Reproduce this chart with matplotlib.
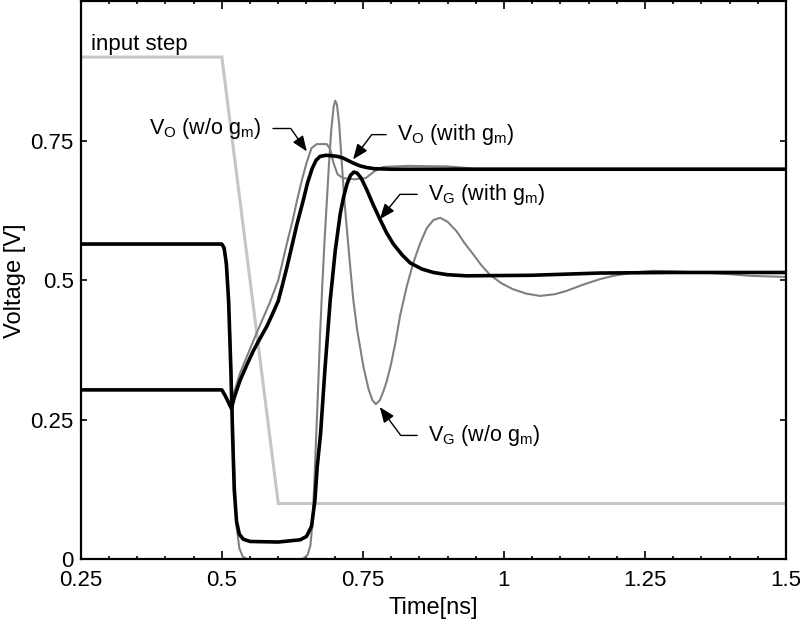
import matplotlib
matplotlib.use("Agg")
import matplotlib.pyplot as plt
from matplotlib.ticker import FixedLocator, MultipleLocator

plt.rcParams["font.family"] = ["Liberation Sans", "DejaVu Sans"]
plt.rcParams["mathtext.fontset"] = "custom"
plt.rcParams["mathtext.rm"] = "Liberation Sans"

# input step
t_in = [0.25, 0.5, 0.6, 1.5]
v_in = [0.9, 0.9, 0.1, 0.1]

# V_G with g_m (black)
t_vg_gm = [0.25, 0.5, 0.504, 0.508, 0.512, 0.516, 0.519, 0.522, 0.526, 0.531, 0.538, 0.55, 0.6,
           0.639, 0.65, 0.659, 0.665, 0.669, 0.675, 0.683, 0.692, 0.701, 0.71,
           0.716, 0.722, 0.728, 0.734, 0.74, 0.747, 0.757, 0.768, 0.78, 0.792,
           0.804, 0.82, 0.834, 0.855, 0.875, 0.9, 0.934, 1.05, 1.17, 1.3, 1.5]
v_vg_gm = [0.565, 0.565, 0.558, 0.53, 0.463, 0.34, 0.225, 0.125, 0.068, 0.045, 0.036, 0.032, 0.031,
           0.035, 0.041, 0.059, 0.106, 0.165, 0.225, 0.344, 0.463, 0.553, 0.62,
           0.65, 0.673, 0.688, 0.694, 0.692, 0.683, 0.662, 0.636, 0.61, 0.585,
           0.565, 0.545, 0.531, 0.52, 0.514, 0.51, 0.508, 0.509, 0.513, 0.514, 0.514]

# V_O with g_m (black)
t_vo_gm = [0.25, 0.5, 0.505, 0.51, 0.517, 0.522, 0.532, 0.545, 0.556, 0.57, 0.58,
           0.59, 0.6, 0.607, 0.615, 0.625, 0.633, 0.644, 0.652, 0.66, 0.667,
           0.674, 0.685, 0.697, 0.705, 0.715, 0.725, 0.733, 0.745, 0.757, 0.77,
           0.8, 1.5]
v_vo_gm = [0.3036, 0.3036, 0.295, 0.285, 0.27, 0.29, 0.32, 0.35, 0.374, 0.4, 0.418,
           0.44, 0.463, 0.49, 0.522, 0.565, 0.6, 0.642, 0.675, 0.7, 0.715,
           0.722, 0.724, 0.723, 0.722, 0.719, 0.714, 0.71, 0.705, 0.702, 0.7,
           0.699, 0.699]

# V_O without g_m (gray)
t_vo = [0.25, 0.5, 0.505, 0.51, 0.517, 0.522, 0.532, 0.545, 0.556, 0.57, 0.585,
        0.6, 0.607, 0.615, 0.625, 0.633, 0.642, 0.65, 0.659, 0.668, 0.686,
        0.692, 0.698, 0.705, 0.715, 0.735, 0.755, 0.77, 0.785, 0.83, 0.9,
        0.95, 1.5]
v_vo = [0.3036, 0.3036, 0.295, 0.285, 0.27, 0.3, 0.333, 0.365, 0.392, 0.425, 0.46,
        0.5, 0.53, 0.565, 0.605, 0.642, 0.68, 0.71, 0.737, 0.744, 0.744,
        0.735, 0.71, 0.69, 0.683, 0.681, 0.683, 0.695, 0.703, 0.705, 0.704,
        0.7, 0.7]

# V_G without g_m (gray)
t_vg = [0.25, 0.5, 0.505, 0.51, 0.514, 0.518, 0.522, 0.526, 0.531, 0.537, 0.545,
        0.64, 0.645, 0.652, 0.657, 0.661, 0.665, 0.67, 0.674, 0.678, 0.682,
        0.686, 0.69, 0.694, 0.698, 0.701, 0.704, 0.708, 0.712, 0.716, 0.72,
        0.727, 0.733, 0.74, 0.751, 0.76, 0.767, 0.773, 0.78, 0.786, 0.792,
        0.8, 0.808, 0.816, 0.828, 0.839, 0.851, 0.863, 0.875, 0.887, 0.9,
        0.916, 0.93, 0.946, 0.96, 0.975, 0.995, 1.016, 1.04, 1.064, 1.09,
        1.111, 1.14, 1.17, 1.194, 1.23, 1.264, 1.3, 1.348, 1.4, 1.436, 1.5]
v_vg = [0.564, 0.564, 0.55, 0.5, 0.42, 0.3, 0.16, 0.06, 0.02, 0.005, 0.0,
        0.0, 0.002, 0.008, 0.025, 0.07, 0.165, 0.29, 0.4, 0.49, 0.57,
        0.64, 0.71, 0.77, 0.81, 0.822, 0.815, 0.78, 0.72, 0.66, 0.61,
        0.53, 0.465, 0.41, 0.345, 0.305, 0.285, 0.278, 0.285, 0.3, 0.318,
        0.35, 0.39, 0.437, 0.49, 0.53, 0.565, 0.593, 0.608, 0.612, 0.605,
        0.588, 0.567, 0.546, 0.527, 0.51, 0.495, 0.484, 0.476, 0.472, 0.475,
        0.481, 0.492, 0.502, 0.508, 0.514, 0.517, 0.516, 0.514, 0.511, 0.508, 0.506]

x_ticks = [0.25, 0.5, 0.75, 1, 1.25, 1.5]
x_labels = ["0.25", "0.5", "0.75", "1", "1.25", "1.5"]
y_ticks = [0, 0.25, 0.5, 0.75]
y_labels = ["0", "0.25", "0.5", "0.75"]

fig = plt.figure(figsize=(8, 6.32), dpi=100)
ax = fig.add_axes([0.101, 0.115, 0.8815, 0.883])

ax.plot(t_in, v_in, color="#c6c6c6", lw=2.2, solid_joinstyle="miter")
ax.plot(t_vo, v_vo, color="#808080", lw=1.5)
ax.plot(t_vg, v_vg, color="#808080", lw=1.5)
ax.plot(t_vo_gm, v_vo_gm, color="black", lw=2.6)
ax.plot(t_vg_gm, v_vg_gm, color="black", lw=2.6)

ax.set_xlim(0.25, 1.5)
ax.set_ylim(0, 1.0)
ax.xaxis.set_major_locator(FixedLocator(x_ticks))
ax.set_xticklabels(x_labels)
ax.xaxis.set_minor_locator(MultipleLocator(0.05))
ax.yaxis.set_major_locator(FixedLocator(y_ticks))
ax.set_yticklabels(y_labels)
ax.tick_params(which="both", direction="in", top=True, right=True, width=1.2,
               labelsize=16)
ax.tick_params(axis="x", which="major", length=5.5, pad=8)
ax.tick_params(axis="x", which="minor", length=2.5)
ax.tick_params(axis="y", which="major", length=4.5, pad=5)
for s in ax.spines.values():
    s.set_linewidth(1.6)

ax.set_xlabel("Time[ns]", fontsize=17, labelpad=4)
ax.set_ylabel("Voltage [V]", fontsize=17, labelpad=3)

ax.text(0.2677, 0.9225, "input step", fontsize=16, va="center", ha="left")

fs = 15.5
arrow = dict(arrowstyle="-|>,head_length=0.6,head_width=0.24", color="black",
             lw=1.0, shrinkB=0)
ax.annotate(r"V$_\mathregular{O}$ (w/o g$_\mathregular{m}$)", xy=(0.6506, 0.731),
            xytext=(0.571, 0.772), fontsize=fs, ha="right", va="center",
            arrowprops=dict(arrow, relpos=(1, 0.5), shrinkA=6,
                            connectionstyle="angle,angleA=0,angleB=125,rad=0"))
ax.annotate(r"V$_\mathregular{O}$ (with g$_\mathregular{m}$)", xy=(0.7326, 0.7166),
            xytext=(0.811, 0.761), fontsize=fs, ha="left", va="center",
            arrowprops=dict(arrow, relpos=(0, 0.5), shrinkA=6,
                            connectionstyle="angle,angleA=0,angleB=53,rad=0"))
ax.annotate(r"V$_\mathregular{G}$ (with g$_\mathregular{m}$)", xy=(0.780, 0.6095),
            xytext=(0.866, 0.654), fontsize=fs, ha="left", va="center",
            arrowprops=dict(arrow, relpos=(0, 0.5), shrinkA=6,
                            connectionstyle="angle,angleA=0,angleB=51,rad=0"))
ax.annotate(r"V$_\mathregular{G}$ (w/o g$_\mathregular{m}$)", xy=(0.780, 0.2727),
            xytext=(0.866, 0.222), fontsize=fs, ha="left", va="center",
            arrowprops=dict(arrow, relpos=(0, 0.5), shrinkA=6,
                            connectionstyle="angle,angleA=0,angleB=-53.5,rad=0"))

fig.savefig("out.png", dpi=100)
